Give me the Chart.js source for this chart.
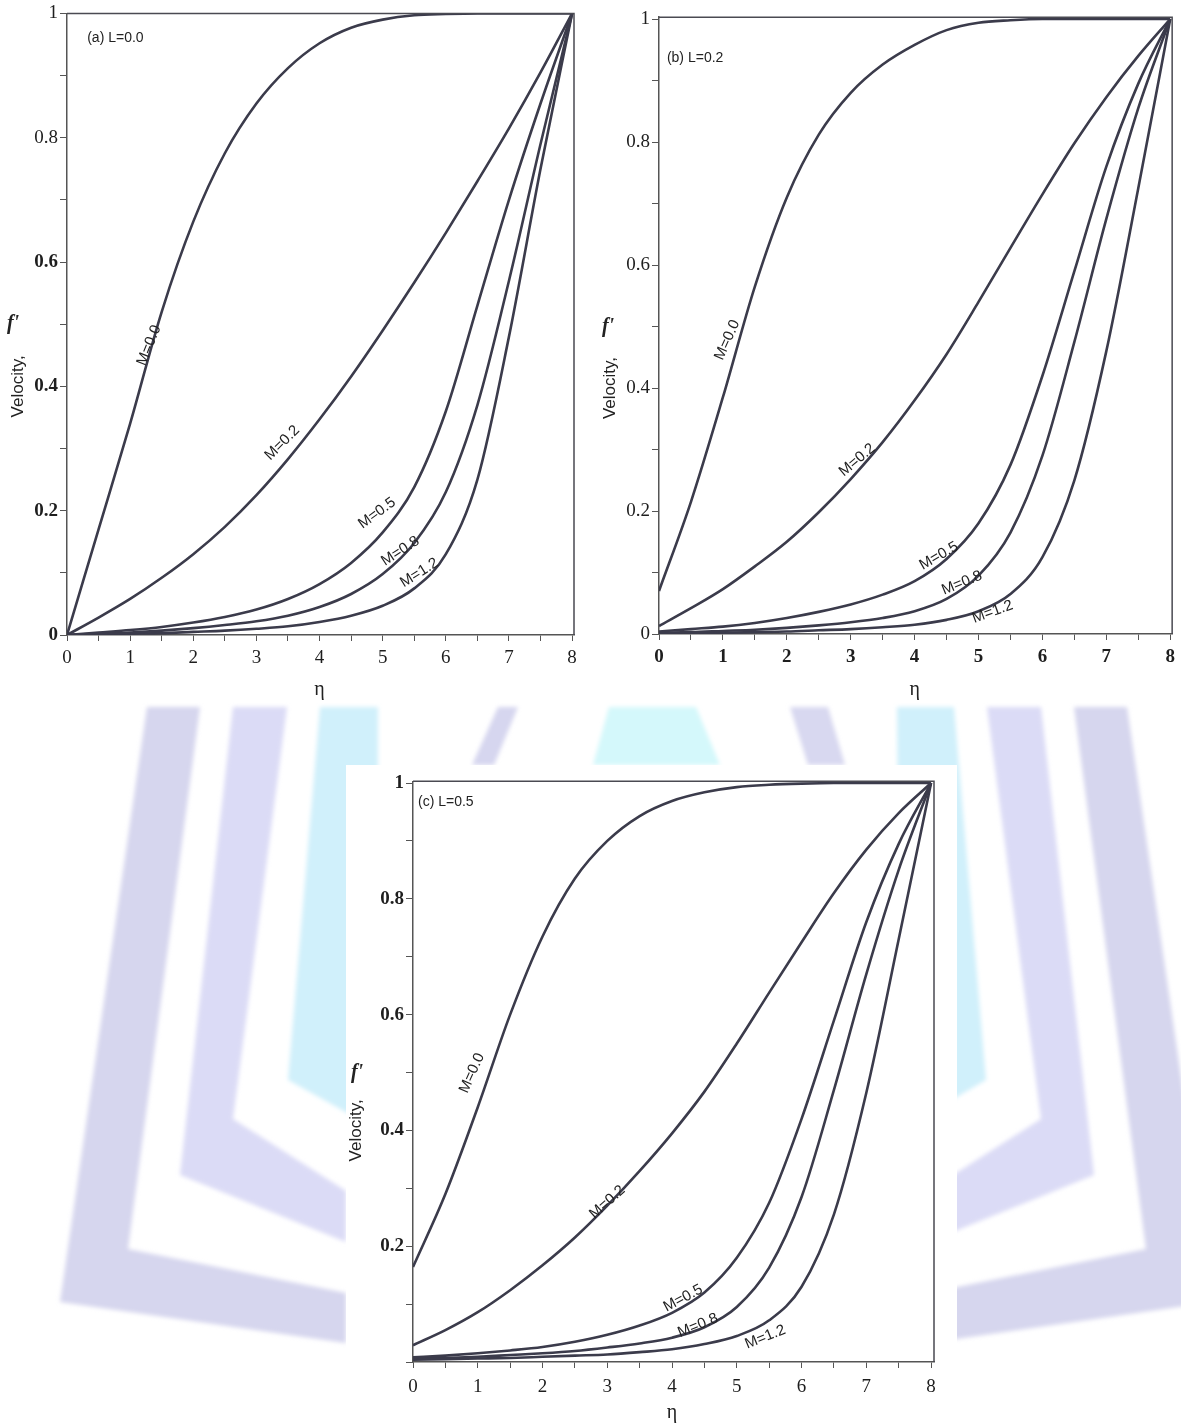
<!DOCTYPE html>
<html><head><meta charset="UTF-8"><title>Velocity f' vs eta</title>
<script src="https://cdn.jsdelivr.net/npm/chart.js"></script>
<style>
  html, body { margin: 0; padding: 0; background: #fff; }
  #page { position: relative; width: 1181px; height: 1425px; overflow: hidden; }
  #wm { position: absolute; left: 0; top: 0; }
  #panelC { position: absolute; left: 346px; top: 765px; width: 611px; height: 660px; background: #fff; }
  canvas { position: absolute; }
</style></head><body>
<div id="page">
  <svg id="wm" width="1181" height="1425">
    <defs><filter id="soft"><feGaussianBlur stdDeviation="2"/></filter></defs>
    <g filter="url(#soft)">
      <!-- left bands -->
      <polygon fill="#d6d6ee" points="147,707 200,707 128,1249 346,1293 346,1343 60,1302"/>
      <polygon fill="#dbdbf6" points="233,707 287,707 233,1119 346,1191 346,1242 180,1175"/>
      <polygon fill="#d0f0fb" points="320,707 378,707 378,1130 288,1080"/>
      <!-- right bands -->
      <polygon fill="#d6d6ee" points="1127,707 1074,707 1146,1249 928,1293 928,1343 1214,1302"/>
      <polygon fill="#dbdbf6" points="1041,707 987,707 1041,1119 928,1191 928,1242 1094,1175"/>
      <polygon fill="#d0f0fb" points="897,707 954,707 986,1080 900,1130"/>
      <!-- centre, above panel c -->
      <polygon fill="#d6d6ef" points="498,707 518,707 494,765 472,765"/>
      <polygon fill="#d4f8fb" points="609,707 696,707 720,765 593,765"/>
      <polygon fill="#d8d8f0" points="790,707 828,707 845,765 808,765"/>
    </g>
  </svg>
  <div id="panelC"></div>
  <canvas id="chartA" width="595" height="705" style="left:0;top:0"></canvas>
  <canvas id="chartB" width="586" height="705" style="left:595px;top:0"></canvas>
  <canvas id="chartC" width="611" height="660" style="left:346px;top:765px"></canvas>
</div>
<script>
// eta grid shared by every curve
const ETA = [0, 0.5, 1, 1.5, 2, 2.5, 3, 3.5, 4, 4.5, 5, 5.5, 6, 6.5, 7, 7.5, 8];
const M_NAMES = ['M=0.0', 'M=0.2', 'M=0.5', 'M=0.8', 'M=1.2'];

// (a) L=0.0
const a_M00 = [0, 0.17, 0.34, 0.52, 0.665, 0.775, 0.855, 0.912, 0.952, 0.977, 0.99, 0.997, 0.999, 1, 1, 1, 1];
const a_M02 = [0, 0.028, 0.058, 0.092, 0.13, 0.174, 0.225, 0.283, 0.347, 0.416, 0.49, 0.567, 0.647, 0.73, 0.815, 0.905, 1];
const a_M05 = [0, 0.004, 0.008, 0.013, 0.02, 0.029, 0.041, 0.058, 0.082, 0.116, 0.165, 0.238, 0.36, 0.53, 0.7, 0.855, 1];
const a_M08 = [0, 0.002, 0.004, 0.007, 0.011, 0.016, 0.022, 0.031, 0.045, 0.066, 0.098, 0.148, 0.23, 0.37, 0.57, 0.79, 1];
const a_M12 = [0, 0.001, 0.002, 0.003, 0.005, 0.007, 0.01, 0.014, 0.021, 0.031, 0.047, 0.075, 0.13, 0.25, 0.48, 0.75, 1];

// (b) L=0.2
const b_M00 = [0.07, 0.215, 0.385, 0.565, 0.71, 0.812, 0.88, 0.926, 0.958, 0.982, 0.994, 0.998, 1, 1, 1, 1, 1];
const b_M02 = [0.013, 0.042, 0.073, 0.11, 0.15, 0.198, 0.252, 0.312, 0.38, 0.455, 0.54, 0.628, 0.715, 0.798, 0.873, 0.94, 1];
const b_M05 = [0.004, 0.008, 0.012, 0.018, 0.026, 0.036, 0.048, 0.064, 0.086, 0.122, 0.18, 0.275, 0.42, 0.59, 0.76, 0.895, 1];
const b_M08 = [0.002, 0.003, 0.005, 0.007, 0.01, 0.014, 0.019, 0.026, 0.037, 0.057, 0.095, 0.165, 0.29, 0.475, 0.675, 0.855, 1];
const b_M12 = [0.001, 0.0015, 0.002, 0.003, 0.004, 0.006, 0.008, 0.011, 0.015, 0.023, 0.037, 0.065, 0.125, 0.25, 0.46, 0.725, 1];

// (c) L=0.5
const c_M00 = [0.164, 0.29, 0.44, 0.6, 0.735, 0.835, 0.9, 0.943, 0.969, 0.984, 0.993, 0.997, 0.999, 1, 1, 1, 1];
const c_M02 = [0.029, 0.055, 0.086, 0.124, 0.167, 0.215, 0.27, 0.33, 0.395, 0.467, 0.55, 0.638, 0.725, 0.81, 0.885, 0.948, 1];
const c_M05 = [0.008, 0.011, 0.015, 0.02, 0.026, 0.035, 0.047, 0.063, 0.085, 0.12, 0.18, 0.275, 0.42, 0.59, 0.76, 0.895, 1];
const c_M08 = [0.006, 0.007, 0.009, 0.012, 0.015, 0.019, 0.025, 0.032, 0.042, 0.06, 0.095, 0.163, 0.285, 0.47, 0.67, 0.85, 1];
const c_M12 = [0.004, 0.005, 0.006, 0.007, 0.009, 0.011, 0.013, 0.017, 0.022, 0.031, 0.045, 0.072, 0.13, 0.255, 0.465, 0.73, 1];

const SERIF = '"Liberation Serif", "Times New Roman", serif';
const SANS = '"Liberation Sans", Arial, sans-serif';
const CURVE = '#3b3b4b';
const AXIS = '#555';

// frame, curve labels, tag and axis titles
const annotate = {
  id: 'annotate',
  afterDraw(chart, args, o) {
    const { ctx, chartArea: a, scales: { x, y } } = chart;
    ctx.save();
    ctx.strokeStyle = '#4a4a52';
    ctx.lineWidth = 1.5;
    ctx.beginPath();
    ctx.moveTo(a.left, a.top); ctx.lineTo(a.right, a.top); ctx.lineTo(a.right, a.bottom);
    ctx.stroke();

    ctx.fillStyle = '#222';
    ctx.textAlign = 'center';
    ctx.textBaseline = 'middle';
    ctx.font = '15px ' + SANS;
    o.labels.forEach((l, i) => {
      ctx.save();
      ctx.translate(x.getPixelForValue(l[0]), y.getPixelForValue(l[1]));
      ctx.rotate(l[2] * Math.PI / 180);
      ctx.fillText(M_NAMES[i], 0, 0);
      ctx.restore();
    });

    ctx.font = '14px ' + SANS;
    ctx.textAlign = 'left';
    ctx.fillText(o.tag, x.getPixelForValue(o.tagAt[0]), y.getPixelForValue(o.tagAt[1]));

    // eta title
    ctx.textAlign = 'center';
    ctx.font = '20px ' + SERIF;
    ctx.fillText('η', x.getPixelForValue(4), a.bottom + o.etaGap);

    // Velocity, f'
    ctx.save();
    ctx.translate(o.velX, y.getPixelForValue(0.4));
    ctx.rotate(-Math.PI / 2);
    ctx.font = '17px ' + SANS;
    ctx.fillText('Velocity,', 0, 0);
    ctx.restore();
    ctx.font = 'italic bold 20px ' + SERIF;
    ctx.fillText("f'", o.fpX, y.getPixelForValue(0.5));
    ctx.restore();
  }
};

function tickFont(boldTest) {
  return ctx => ({ family: SERIF, size: 19, weight: boldTest(ctx.tick ? ctx.tick.value : 0) ? 'bold' : 'normal' });
}

function buildChart(id, series, cfg) {
  const canvas = document.getElementById(id);
  const W = canvas.width, H = canvas.height;
  const ar = cfg.area;
  return new Chart(canvas, {
    type: 'line',
    data: {
      datasets: series.map(s => ({
        data: ETA.map((e, i) => ({ x: e, y: s[i] })),
        borderColor: CURVE, borderWidth: 2.6, pointRadius: 0,
        cubicInterpolationMode: 'monotone', fill: false
      }))
    },
    options: {
      responsive: false, animation: false,
      layout: { padding: { left: 0, top: ar.top, right: W - ar.right, bottom: 0 } },
      plugins: {
        legend: { display: false }, tooltip: { enabled: false },
        annotate: cfg.notes
      },
      scales: {
        x: {
          type: 'linear', min: 0, max: cfg.xMax,
          afterFit: s => { s.height = H - ar.bottom; },
          ticks: {
            stepSize: 0.5, includeBounds: false, autoSkip: false, maxRotation: 0,
            padding: cfg.xPad, color: '#1e1e1e', font: tickFont(cfg.xBold),
            callback: v => (Math.abs(v - Math.round(v)) < 1e-6 ? String(Math.round(v)) : '')
          },
          grid: { drawOnChartArea: false, tickLength: 6, color: AXIS },
          border: { color: AXIS, width: 1.5 }
        },
        y: {
          min: 0, max: cfg.yMax,
          afterFit: s => { s.width = ar.left; },
          ticks: {
            stepSize: 0.1, includeBounds: false, autoSkip: false,
            padding: 2, color: '#1e1e1e', font: tickFont(cfg.yBold),
            callback: v => {
              const k = Math.round(v * 10);
              if (k % 2) return '';
              if (cfg.hideZero && k === 0) return '';
              return String(k / 10);
            }
          },
          grid: { drawOnChartArea: false, tickLength: 7, color: AXIS },
          border: { color: AXIS, width: 1.5 }
        }
      }
    },
    plugins: [annotate]
  });
}

buildChart('chartA', [a_M00, a_M02, a_M05, a_M08, a_M12], {
  area: { left: 67, top: 13, right: 574, bottom: 635 },
  xMax: 8.03, yMax: 1.0, xPad: 6,
  xBold: () => false, yBold: v => v < 0.7,
  notes: {
    labels: [[1.30, 0.466, -68], [3.41, 0.309, -45], [4.91, 0.196, -36], [5.28, 0.135, -33], [5.58, 0.10, -32]],
    tag: '(a) L=0.0', tagAt: [0.32, 0.96], etaGap: 55, velX: 18, fpX: 13
  }
});

buildChart('chartB', [b_M00, b_M02, b_M05, b_M08, b_M12], {
  area: { left: 64, top: 17.2, right: 581, bottom: 634 },
  xMax: 8.03, yMax: 1.003, xPad: 6,
  xBold: () => true, yBold: () => false,
  notes: {
    labels: [[1.07, 0.478, -66], [3.1, 0.283, -40], [4.38, 0.127, -30], [4.74, 0.083, -22], [5.22, 0.036, -20]],
    tag: '(b) L=0.2', tagAt: [0.124, 0.937], etaGap: 56, velX: 15, fpX: 13
  }
});

buildChart('chartC', [c_M00, c_M02, c_M05, c_M08, c_M12], {
  area: { left: 67, top: 16.3, right: 588, bottom: 597 },
  xMax: 8.045, yMax: 1.003, hideZero: true, xPad: 8,
  xBold: () => false, yBold: () => true,
  notes: {
    labels: [[0.91, 0.499, -66], [3.0, 0.276, -42], [4.17, 0.11, -28], [4.4, 0.063, -22], [5.44, 0.043, -22]],
    tag: '(c) L=0.5', tagAt: [0.077, 0.967], etaGap: 51, velX: 10, fpX: 11
  }
});
</script>
</body></html>
